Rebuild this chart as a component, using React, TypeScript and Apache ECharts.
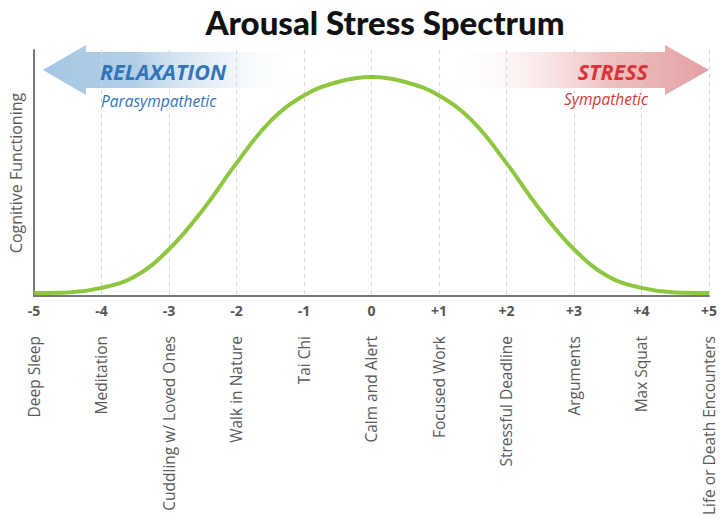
import React, { useEffect, useRef } from "react";
import * as echarts from "echarts";

const arousalLevels = [-5, -4.5, -4, -3.5, -3, -2.5, -2, -1.5, -1, -0.5, 0, 0.5, 1, 1.5, 2, 2.5, 3, 3.5, 4, 4.5, 5];
const cognitiveValues = [1.2, 1.4, 3.3, 8, 19, 35, 54, 71, 81.5, 87, 89, 87, 81.5, 71, 54, 35, 19, 8, 3.3, 1.4, 1.2];
const tickLabels = ["-5", "-4", "-3", "-2", "-1", "0", "+1", "+2", "+3", "+4", "+5"];
const activities = [
  "Deep Sleep",
  "Meditation",
  "Cuddling w/ Loved Ones",
  "Walk in Nature",
  "Tai Chi",
  "Calm and Alert",
  "Focused Work",
  "Stressful Deadline",
  "Arguments",
  "Max Squat",
  "Life or Death Encounters",
];

export default function App() {
  const ref = useRef<HTMLDivElement>(null);
  useEffect(() => {
    if (!ref.current) return;
    const chart = echarts.init(ref.current, null, { renderer: "svg" });
    const idx = (v: number) => Math.round(v) + 5;
    chart.setOption({
      animation: false,
      backgroundColor: "#ffffff",
      title: {
        text: "Arousal Stress Spectrum",
        left: 380,
        top: 0,
        textAlign: "center",
        textStyle: { fontFamily: "Lato", fontWeight: 900, fontSize: 33, color: "#111" },
      },
      grid: { left: 34, right: 6, top: 50, bottom: 224 },
      xAxis: [
        {
          type: "value",
          min: -5,
          max: 5,
          interval: 1,
          axisLine: { show: true, onZero: false, lineStyle: { color: "#777", width: 2 } },
          axisTick: { show: false },
          splitLine: { show: true, lineStyle: { color: "#d6d6d6", type: [4, 4], width: 1 } },
          axisLabel: {
            margin: 7,
            fontFamily: "Open Sans",
            fontWeight: "bold",
            fontSize: 14,
            color: "#555",
            formatter: (v: number) => tickLabels[idx(v)],
          },
        },
        {
          type: "value",
          position: "bottom",
          min: -5,
          max: 5,
          interval: 1,
          axisLine: { show: false },
          axisTick: { show: false },
          splitLine: { show: false },
          axisLabel: {
            margin: 40,
            rotate: 90,
            fontFamily: "Open Sans",
            fontSize: 15.5,
            color: "#5a5a5a",
            formatter: (v: number) => activities[idx(v)],
          },
        },
      ],
      yAxis: {
        type: "value",
        min: 0,
        max: 100,
        name: "Cognitive Functioning",
        nameLocation: "middle",
        nameGap: 10,
        nameTextStyle: { fontFamily: "Open Sans", fontSize: 16, color: "#5a5a5a" },
        axisLine: { show: true, onZero: false, lineStyle: { color: "#777", width: 2 } },
        axisTick: { show: false },
        axisLabel: { show: false },
        splitLine: { show: false },
      },
      graphic: [
        {
          type: "polygon",
          z: 0,
          shape: {
            points: [
              [43, 70], [86, 45], [86, 52], [310, 52], [310, 88], [86, 88], [86, 95],
            ],
          },
          style: {
            fill: new echarts.graphic.LinearGradient(0, 0, 1, 0, [
              { offset: 0, color: "#a6c6e3" },
              { offset: 0.35, color: "#b3cfe8" },
              { offset: 1, color: "rgba(255,255,255,0)" },
            ]),
          },
        },
        {
          type: "polygon",
          z: 0,
          shape: {
            points: [
              [443, 52], [665, 52], [665, 45], [709, 70], [665, 95], [665, 88], [443, 88],
            ],
          },
          style: {
            fill: new echarts.graphic.LinearGradient(0, 0, 1, 0, [
              { offset: 0, color: "rgba(255,255,255,0)" },
              { offset: 0.6, color: "#efc3c3" },
              { offset: 1, color: "#e2a0a3" },
            ]),
          },
        },
        {
          type: "text",
          z: 1,
          x: 100,
          y: 71,
          style: {
            text: "RELAXATION",
            fontFamily: "Open Sans",
            fontWeight: "bold",
            fontStyle: "italic",
            fontSize: 21.5,
            fill: "#3274ba",
            textAlign: "left",
            textVerticalAlign: "middle",
          },
        },
        {
          type: "text",
          z: 1,
          x: 101,
          y: 101,
          style: {
            text: "Parasympathetic",
            fontFamily: "Open Sans",
            fontStyle: "italic",
            fontSize: 15.5,
            fill: "#3274ba",
            textAlign: "left",
            textVerticalAlign: "middle",
          },
        },
        {
          type: "text",
          z: 1,
          x: 648,
          y: 71,
          style: {
            text: "STRESS",
            fontFamily: "Open Sans",
            fontWeight: "bold",
            fontStyle: "italic",
            fontSize: 21.5,
            fill: "#d8353b",
            textAlign: "right",
            textVerticalAlign: "middle",
          },
        },
        {
          type: "text",
          z: 1,
          x: 648,
          y: 99,
          style: {
            text: "Sympathetic",
            fontFamily: "Open Sans",
            fontStyle: "italic",
            fontSize: 15.5,
            fill: "#d8353b",
            textAlign: "right",
            textVerticalAlign: "middle",
          },
        },
      ],
      series: [
        {
          type: "line",
          xAxisIndex: 0,
          data: arousalLevels.map((x, i) => [x, cognitiveValues[i]]),
          smooth: 0.4,
          symbol: "none",
          z: 5,
          lineStyle: { color: "#8dc63f", width: 4 },
        },
      ],
    });
    return () => chart.dispose();
  }, []);
  return <div ref={ref} style={{ width: 720, height: 520, position: "absolute", left: 0, top: 0 }} />;
}
